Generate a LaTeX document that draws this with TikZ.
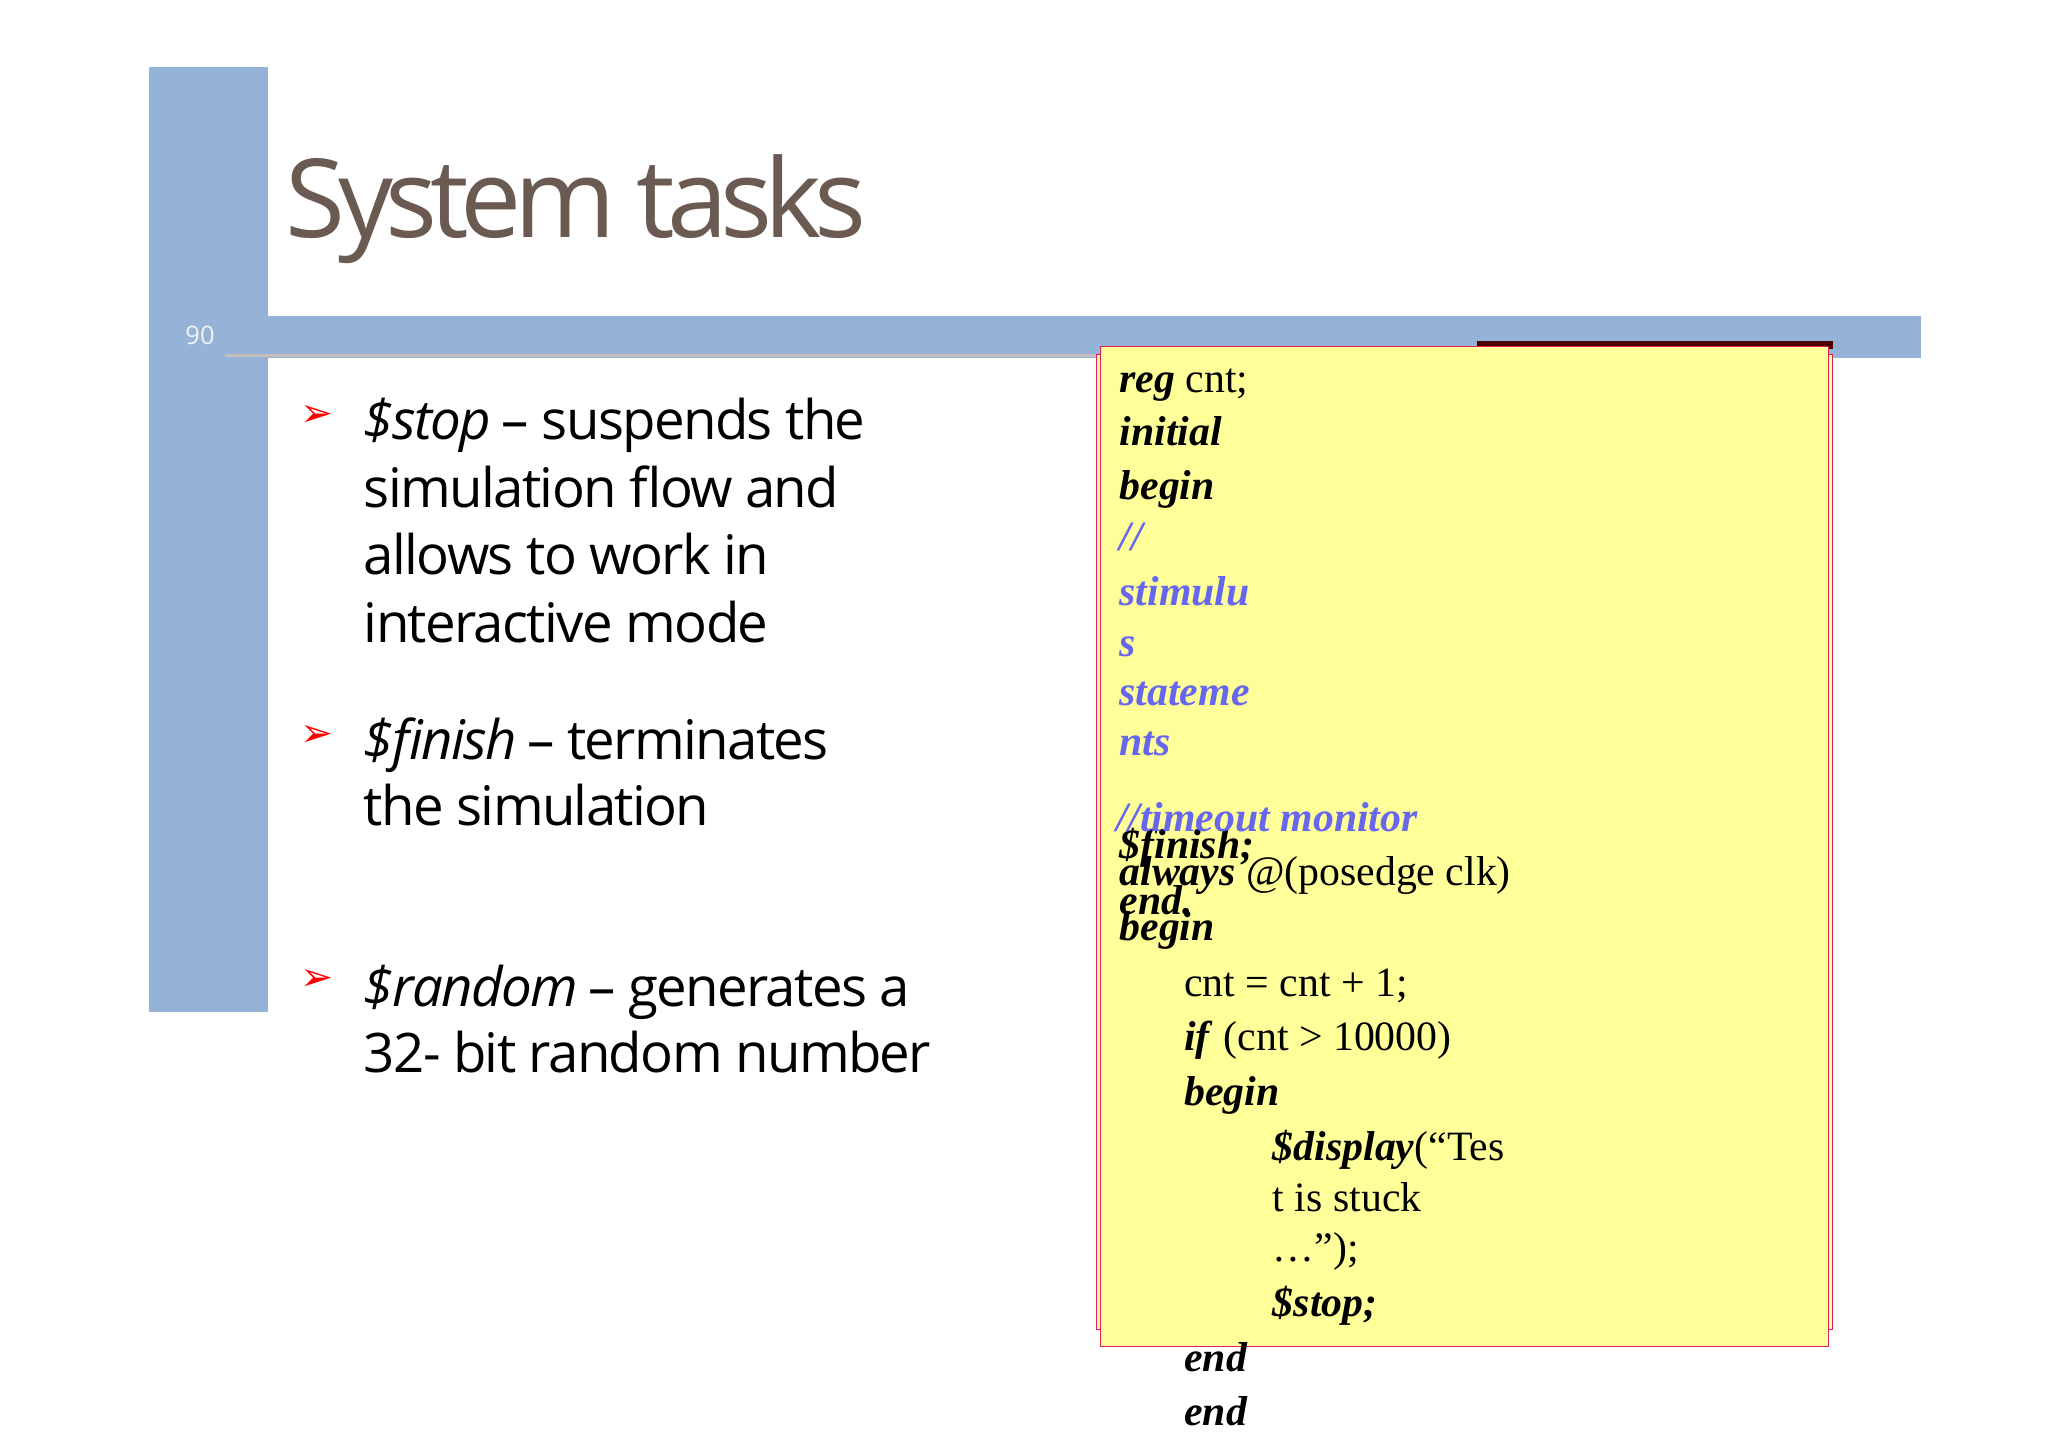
\documentclass[tikz,border=0pt]{standalone}
\usepackage{fontspec}
\setmainfont{Open Sans}
\newfontfamily\codef{Liberation Serif}
\newfontfamily\symf{DejaVu Sans}
\definecolor{barblue}{HTML}{95B3D7}
\definecolor{titlec}{HTML}{6B5A52}
\definecolor{codey}{HTML}{FFFF99}
\definecolor{boxr}{HTML}{E0205A}
\definecolor{cmt}{HTML}{6666EE}
\begin{document}
\begin{tikzpicture}[x=0.02cm,y=-0.02cm,
  body/.style={anchor=base west,inner sep=0pt,font=\addfontfeature{LetterSpace=-3}\fontsize{23.5}{29}\selectfont},
  bul/.style={anchor=base west,inner sep=0pt,text=red,font=\symf\fontsize{17}{19}\selectfont},
  code/.style={anchor=base west,inner sep=0pt,font=\codef\fontsize{18}{22}\selectfont},
  cmtline/.style={code,text=cmt,font=\codef\bfseries\itshape\fontsize{18}{22}\selectfont}]
\useasboundingbox (0,0) rectangle (1550,1095);
\fill[white] (0,0) rectangle (1550,1095);
\fill[barblue] (113,51) rectangle (203,766);
\fill[barblue] (203,239) rectangle (1454,271);
\draw[color=titlec!40,line width=1.2pt] (170,269) -- (833,269);
\node[anchor=base west,inner sep=0pt,text=white!90!gray,font=\fontsize{11}{13}\selectfont] (pg) at (140,261) {90};
\node[anchor=base west,inner sep=0pt,text=titlec,font=\fontsize{47}{55}\selectfont] (title) at (216,180) {\addfontfeature{LetterSpace=-7}System tasks};
% bullets
\node[bul] (b1) at (227,323) {➢};
\node[bul] (b2) at (227,565) {➢};
\node[bul] (b3) at (227,750) {➢};
\node[body] (t1a) at (275,333) {\textit{\$stop} – suspends the};
\node[body] (t1b) at (275,384) {simulation flow and};
\node[body] (t1c) at (275,435) {allows to work in};
\node[body] (t1d) at (275,486) {interactive mode};
\node[body] (t2a) at (275,575) {\textit{\$finish} – terminates};
\node[body] (t2b) at (275,625) {the simulation};
\node[body] (t3a) at (275,762) {\textit{\$random} – generates a};
\node[body] (t3b) at (275,812) {32- bit random number};
% code boxes
\fill[color=black!70!red] (1118,258) rectangle (1387,264);
\draw[boxr,fill=codey] (830,268) rectangle (1387,1006);
\draw[boxr,fill=codey] (833,262) rectangle (1384,1019);
\node[code] (c1) at (847,297) {\textbf{\textit{reg}} cnt;};
\node[code] (c2) at (847,337) {\textbf{\textit{initial}}};
\node[code] (c3) at (847,378) {\textbf{\textit{begin}}};
\node[cmtline] (c4) at (847,417) {//};
\node[cmtline] (c5) at (847,458) {stimulu};
\node[cmtline] (c6) at (847,497) {s};
\node[cmtline] (c7) at (847,534) {stateme};
\node[cmtline] (c8) at (847,572) {nts};
\node[code] (c9) at (847,650) {\textbf{\textit{\$finish;}}};
\node[code] (c10) at (847,692) {\textbf{\textit{end.}}};
\node[cmtline] (c11) at (845,629) {//timeout monitor};
\node[code] (c12) at (847,670) {\textbf{\textit{always}} @(posedge clk)};
\node[code] (c13) at (847,712) {\textbf{\textit{begin}}};
\node[code] (c14) at (896,754) {cnt = cnt + 1;};
\node[code] (c15) at (896,795) {\textbf{\textit{if}} (cnt > 10000)};
\node[code] (c16) at (896,837) {\textbf{\textit{begin}}};
\node[code] (c17) at (963,878) {\textbf{\textit{\$display}}(“Tes};
\node[code] (c18) at (963,917) {t is stuck};
\node[code] (c19) at (963,955) {…”);};
\node[code] (c20) at (963,996) {\textbf{\textit{\$stop;}}};
\node[code] (c21) at (896,1038) {\textbf{\textit{end}}};
\node[code] (c22) at (896,1079) {\textbf{\textit{end}}};
\end{tikzpicture}
\end{document}
